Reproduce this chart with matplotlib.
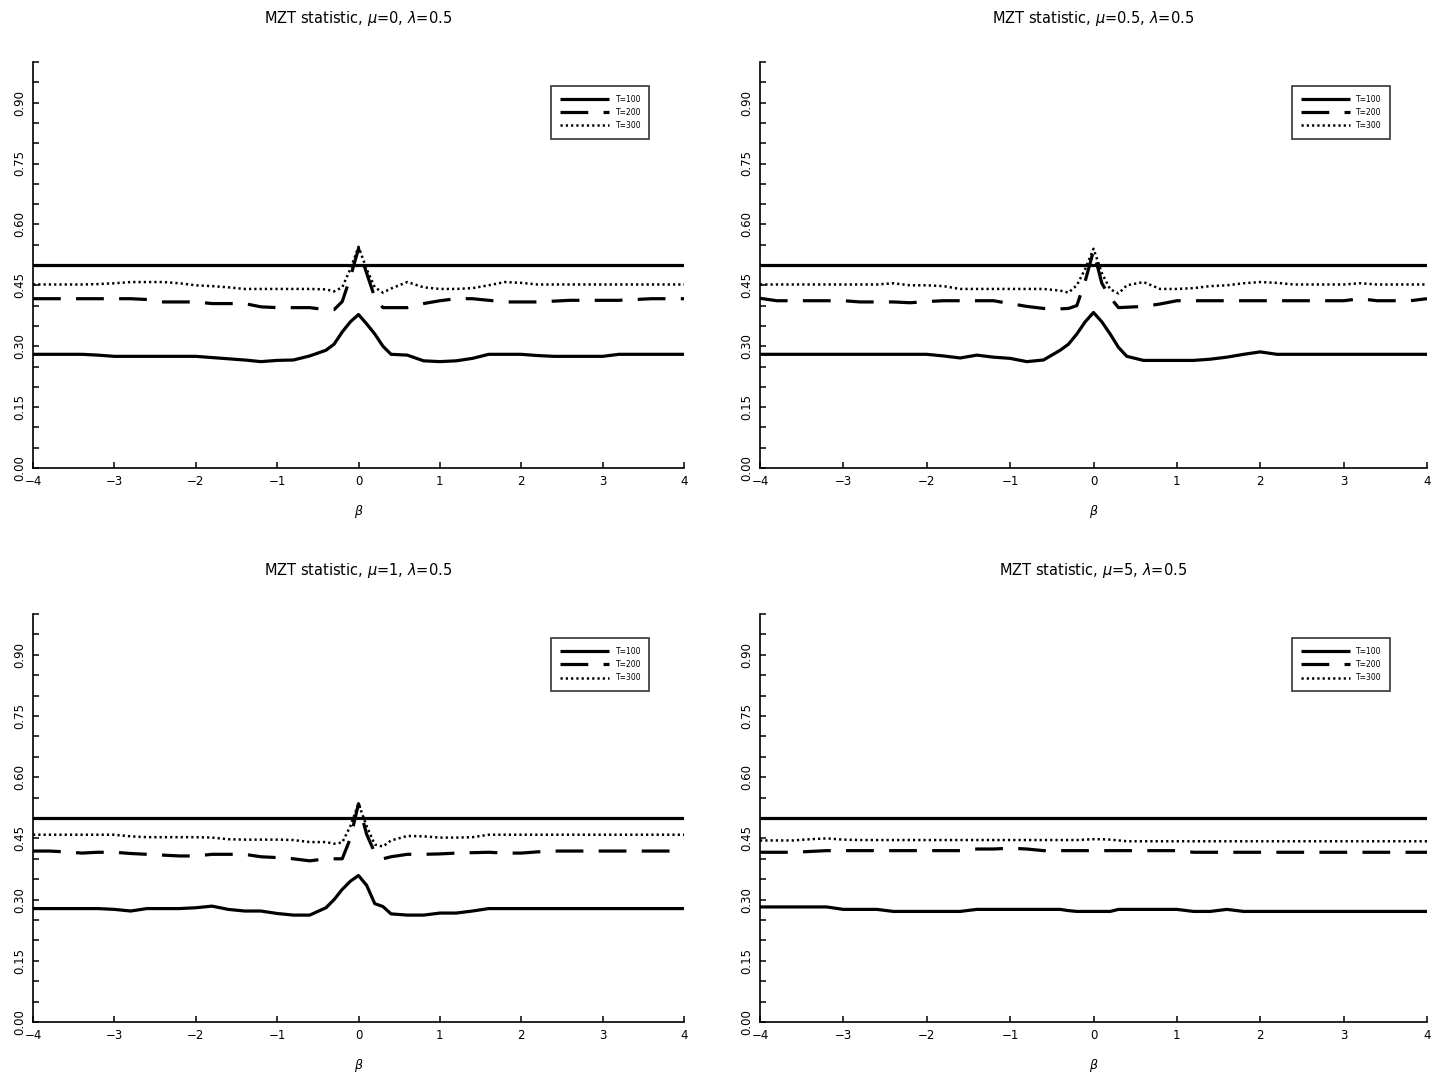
import matplotlib
matplotlib.use("Agg")
import matplotlib.pyplot as plt
from matplotlib.ticker import MultipleLocator, FormatStrFormatter

plt.rcParams['font.family'] = ['DejaVu Sans']
plt.rcParams['lines.scale_dashes'] = False

beta = [-4.0, -3.8, -3.6, -3.4, -3.2, -3.0, -2.8, -2.6, -2.4, -2.2, -2.0, -1.8, -1.6, -1.4, -1.2,
        -1.0, -0.8, -0.6, -0.4, -0.3, -0.2, -0.1, 0.0, 0.1, 0.2, 0.3, 0.4, 0.6, 0.8, 1.0,
        1.2, 1.4, 1.6, 1.8, 2.0, 2.2, 2.4, 2.6, 2.8, 3.0, 3.2, 3.4, 3.6, 3.8, 4.0]

titles = ["MZT statistic, $\\mu$=0, $\\lambda$=0.5",
          "MZT statistic, $\\mu$=0.5, $\\lambda$=0.5",
          "MZT statistic, $\\mu$=1, $\\lambda$=0.5",
          "MZT statistic, $\\mu$=5, $\\lambda$=0.5"]
labels = ["T=100", "T=200", "T=300"]
ref_level = 0.5

# panel 1: mu = 0
p1_t100 = [.280, .280, .280, .280, .278, .275, .275, .275, .275, .275, .275, .272, .269, .266, .262,
           .265, .266, .276, .290, .305, .335, .360, .378, .355, .330, .300, .280, .278, .264, .262,
           .264, .270, .280, .280, .280, .277, .275, .275, .275, .275, .280, .280, .280, .280, .280]
p1_t200 = [.417, .417, .417, .417, .417, .417, .417, .415, .409, .409, .409, .405, .405, .405, .397,
           .395, .395, .395, .390, .390, .410, .470, .540, .480, .420, .395, .395, .395, .405, .412,
           .417, .417, .413, .409, .409, .409, .411, .413, .413, .413, .413, .415, .417, .417, .417]
p1_t300 = [.452, .452, .452, .452, .453, .455, .458, .458, .458, .455, .450, .448, .445, .441, .441,
           .441, .441, .441, .440, .435, .445, .490, .545, .490, .445, .432, .442, .458, .445, .441,
           .441, .443, .450, .458, .456, .452, .452, .452, .452, .452, .452, .452, .452, .452, .452]

# panel 2: mu = 0.5
p2_t100 = [.280, .280, .280, .280, .280, .280, .280, .280, .280, .280, .280, .276, .271, .278, .273,
           .270, .262, .266, .290, .305, .330, .360, .383, .360, .330, .297, .275, .265, .265, .265,
           .265, .268, .273, .280, .286, .280, .280, .280, .280, .280, .280, .280, .280, .280, .280]
p2_t200 = [.418, .412, .412, .412, .412, .412, .409, .409, .409, .407, .410, .412, .412, .412, .412,
           .405, .398, .393, .392, .393, .400, .460, .535, .455, .420, .395, .396, .398, .404, .412,
           .412, .412, .412, .412, .412, .412, .412, .412, .412, .412, .417, .412, .412, .412, .417]
p2_t300 = [.452, .452, .452, .452, .452, .452, .452, .452, .455, .450, .450, .448, .441, .441, .441,
           .441, .441, .441, .437, .432, .450, .490, .540, .480, .440, .430, .450, .458, .441, .441,
           .443, .448, .450, .455, .458, .456, .452, .452, .452, .452, .455, .452, .452, .452, .452]

# panel 3: mu = 1
p3_t100 = [.278, .278, .278, .278, .278, .276, .272, .278, .278, .278, .280, .284, .276, .272, .272,
           .266, .262, .262, .280, .300, .325, .345, .359, .335, .290, .283, .265, .262, .262, .267,
           .267, .272, .278, .278, .278, .278, .278, .278, .278, .278, .278, .278, .278, .278, .278]
p3_t200 = [.419, .419, .417, .414, .416, .416, .413, .411, .409, .407, .407, .411, .411, .411, .405,
           .403, .400, .395, .400, .400, .400, .450, .535, .460, .415, .400, .405, .411, .411, .412,
           .414, .415, .416, .414, .414, .417, .419, .419, .419, .419, .419, .419, .419, .419, .419]
p3_t300 = [.459, .459, .459, .459, .459, .459, .455, .453, .453, .453, .453, .452, .448, .447, .447,
           .447, .446, .441, .441, .437, .440, .480, .535, .480, .435, .430, .445, .456, .455, .452,
           .452, .453, .459, .459, .459, .459, .459, .459, .459, .459, .459, .459, .459, .459, .459]

# panel 4: mu = 5
p4_t100 = [.282, .282, .282, .282, .282, .276, .276, .276, .271, .271, .271, .271, .271, .276, .276,
           .276, .276, .276, .276, .273, .271, .271, .271, .271, .271, .276, .276, .276, .276, .276,
           .271, .271, .276, .271, .271, .271, .271, .271, .271, .271, .271, .271, .271, .271, .271]
p4_t200 = [.416, .416, .416, .418, .420, .420, .420, .420, .420, .420, .420, .420, .420, .424, .424,
           .426, .424, .420, .420, .420, .420, .420, .420, .420, .420, .420, .420, .420, .420, .420,
           .416, .416, .416, .416, .416, .416, .416, .416, .416, .416, .416, .416, .416, .416, .416]
p4_t300 = [.445, .445, .445, .448, .450, .447, .446, .446, .446, .446, .446, .446, .446, .446, .446,
           .446, .446, .446, .446, .446, .446, .447, .448, .448, .447, .445, .443, .443, .443, .443,
           .443, .443, .443, .443, .443, .443, .443, .443, .443, .443, .443, .443, .443, .443, .443]

panels = [(p1_t100, p1_t200, p1_t300), (p2_t100, p2_t200, p2_t300),
          (p3_t100, p3_t200, p3_t300), (p4_t100, p4_t200, p4_t300)]

W, H = 1432, 1078
fig = plt.figure(figsize=(W / 100, H / 100), dpi=100)

# axes boxes in pixels: left, right, top, bottom
boxes = [(33, 684, 62, 468), (760, 1427, 62, 468),
         (33, 684, 614, 1022), (760, 1427, 614, 1022)]
leg_anchor = [(0.947, 0.94), (0.945, 0.94), (0.947, 0.94), (0.945, 0.94)]

styles = [dict(color='black', lw=2.3, ls='-'),
          dict(color='black', lw=2.3, ls=(0, (20, 11))),
          dict(color='black', lw=1.8, ls=(0, (1.6, 2.2)))]

for i, (box, series) in enumerate(zip(boxes, panels)):
    l, r, t, b = box
    ax = fig.add_axes([l / W, 1 - b / H, (r - l) / W, (b - t) / H])
    ax.axhline(ref_level, color='black', lw=2.3)
    handles = []
    for s, st, lab in zip(series, styles, labels):
        h, = ax.plot(beta, s, label=lab, solid_capstyle='butt', dash_capstyle='butt', **st)
        handles.append(h)
    ax.set_xlim(-4, 4)
    ax.set_ylim(0, 1.0)
    ax.xaxis.set_major_locator(MultipleLocator(1))
    ax.yaxis.set_major_locator(MultipleLocator(0.15))
    ax.yaxis.set_minor_locator(MultipleLocator(0.05))
    ax.yaxis.set_major_formatter(FormatStrFormatter('%.2f'))
    for sp in ['top', 'right']:
        ax.spines[sp].set_visible(False)
    for sp in ['left', 'bottom']:
        ax.spines[sp].set_linewidth(1.2)
    ax.tick_params(axis='both', which='both', direction='in', length=4.5, width=1.1,
                   labelsize=8.5)
    ax.tick_params(axis='y', labelrotation=90, pad=5)
    ax.tick_params(axis='x', pad=5)
    for lb in ax.get_yticklabels():
        lb.set_va('center')
    ax.set_xlabel('$\\beta$', fontsize=9, labelpad=11)
    ax.set_title(titles[i], fontsize=10.5, pad=28)
    leg = ax.legend(handles=handles, loc='upper right', bbox_to_anchor=leg_anchor[i],
                    fontsize=5.5, frameon=True, fancybox=False, handlelength=6.5,
                    borderpad=1.1, labelspacing=0.55, handletextpad=0.8,
                    borderaxespad=0.0)
    leg.get_frame().set_edgecolor('black')
    leg.get_frame().set_linewidth(1.2)

fig.savefig('out.png', dpi=100)
